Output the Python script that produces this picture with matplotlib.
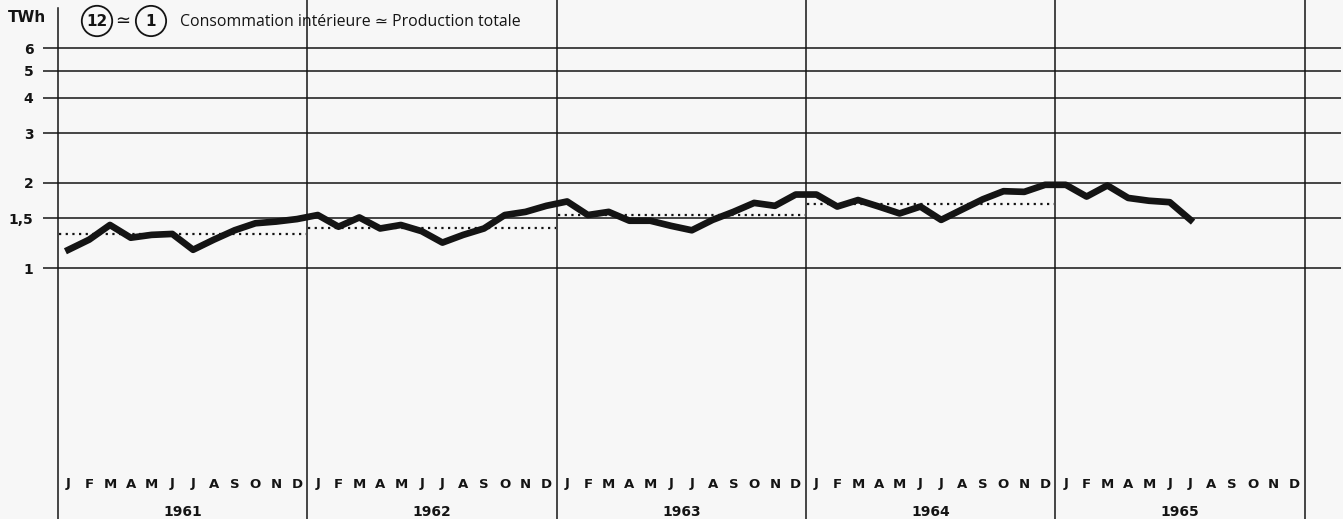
import matplotlib
matplotlib.use('Agg')
import matplotlib.pyplot as plt
import matplotlib.transforms as mtransforms
from matplotlib.ticker import NullLocator

plt.rcParams['font.family'] = ['DejaVu Sans']

years = [1961, 1962, 1963, 1964, 1965]
months = ['J', 'F', 'M', 'A', 'M', 'J', 'J', 'A', 'S', 'O', 'N', 'D']
# monthly consumption, TWh
consumption = [
    1.16, 1.26, 1.42, 1.28, 1.31, 1.32, 1.16, 1.26, 1.36, 1.44, 1.46, 1.49,  # 1961
    1.54, 1.40, 1.51, 1.38, 1.42, 1.35, 1.23, 1.31, 1.38, 1.54, 1.58, 1.66,  # 1962
    1.72, 1.54, 1.58, 1.47, 1.47, 1.41, 1.36, 1.48, 1.58, 1.70, 1.66, 1.82,  # 1963
    1.82, 1.65, 1.74, 1.65, 1.56, 1.65, 1.48, 1.61, 1.75, 1.87, 1.86, 1.97,  # 1964
    1.97, 1.79, 1.96, 1.77, 1.73, 1.71, 1.48,                                # 1965
]
yearly_avg = [1.32, 1.39, 1.54, 1.68]
ytick_vals = [1, 1.5, 2, 3, 4, 5, 6]
ytick_labels = ['1', '1,5', '2', '3', '4', '5', '6']

W, H = 1343, 519
ink = '#141414'

def px2month(px):
    return (px - 68.4) / 20.78

fig = plt.figure(figsize=(W / 100, H / 100), dpi=100)
fig.patch.set_facecolor('#f7f7f7')
ax = fig.add_axes([43 / W, 0, (1341 - 43) / W, 1])
ax.set_facecolor('none')
ax.set_yscale('log')
ax.set_ylim(10 ** (-251 / 282.5), 10 ** (268 / 282.5))
ax.set_xlim(px2month(43), px2month(1341))
for s in ax.spines.values():
    s.set_visible(False)
ax.set_xticks([])
ax.set_yticks(ytick_vals, labels=ytick_labels)
ax.yaxis.set_minor_locator(NullLocator())
ax.tick_params(axis='y', length=0, pad=7, labelsize=10, colors=ink)
for lab in ax.get_yticklabels():
    lab.set_fontweight('bold')

for v in ytick_vals:
    ax.axhline(v, color=ink, lw=1.1)
for i in range(len(years) + 1):
    ax.axvline(12 * i - 0.5, color=ink, lw=1.1, ymax=0.985 if i == 0 else 1)

ax.plot(range(len(consumption)), consumption, color=ink, lw=4.8)
for i, a in enumerate(yearly_avg):
    ax.hlines(a, 12 * i - 0.45, 12 * i + 11.45, color=ink, lw=1.6,
              linestyles=(0, (1, 2)))

trans = mtransforms.blended_transform_factory(ax.transData, ax.transAxes)
for i in range(12 * len(years)):
    ax.text(i, 35 / H, months[i % 12], transform=trans, ha='center',
            va='center', fontsize=9.5, fontweight='bold', color=ink)
for i, y in enumerate(years):
    ax.text(12 * i + 5.5, 7 / H, str(y), transform=trans, ha='center',
            va='center', fontsize=10, fontweight='bold', color=ink)

fig.text(8 / W, 1 - 17 / H, 'TWh', fontsize=11, fontweight='bold',
         va='center', ha='left', color=ink)
circ = dict(boxstyle='circle,pad=0.3', fc='none', ec=ink, lw=1.3)
fig.text(97 / W, 1 - 21 / H, '12', fontsize=11, fontweight='bold', ha='center',
         va='center', color=ink, bbox=circ)
fig.text(123 / W, 1 - 21 / H, '≃', fontsize=13, ha='center', va='center',
         color=ink)
circ1 = dict(boxstyle='circle,pad=0.5', fc='none', ec=ink, lw=1.3)
fig.text(151 / W, 1 - 21 / H, '1', fontsize=11, fontweight='bold', ha='center',
         va='center', color=ink, bbox=circ1)
fig.text(180 / W, 1 - 22 / H, 'Consommation intérieure ≃ Production totale',
         fontsize=11.4, ha='left', va='center', color=ink,
         family=['Open Sans', 'DejaVu Sans'])

fig.savefig('out.png', dpi=100, facecolor=fig.get_facecolor())
